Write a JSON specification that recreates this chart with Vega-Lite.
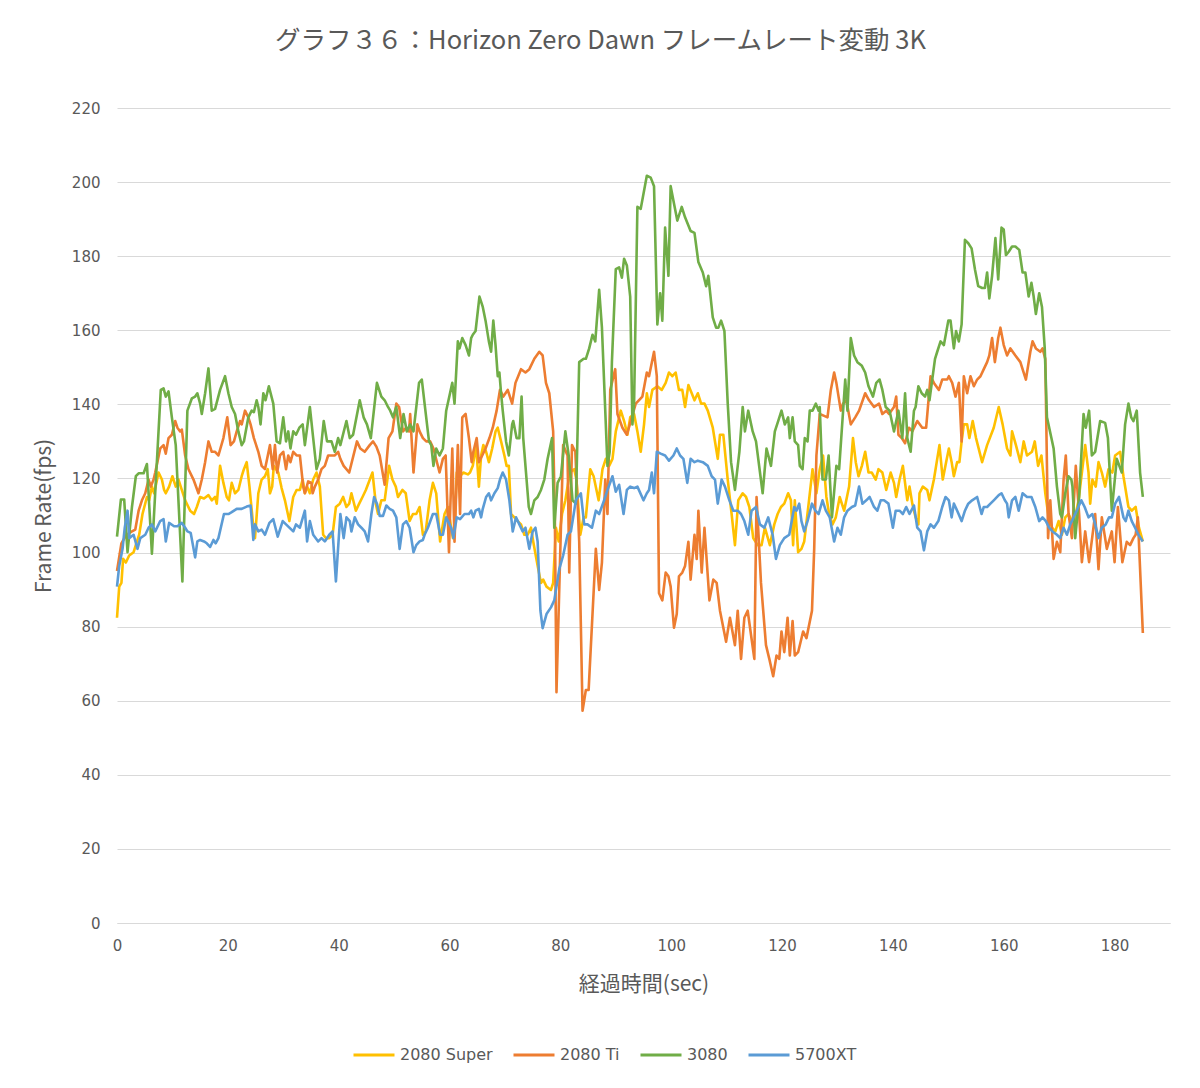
{
  "$schema": "https://vega.github.io/schema/vega-lite/v6.json",
  "width": 1053,
  "height": 815,
  "autosize": {"type": "none"},
  "padding": {"left": 117, "top": 108, "right": 30, "bottom": 165},
  "background": "white",
  "title": {
    "text": "グラフ３６：Horizon Zero Dawn フレームレート変動 3K",
    "fontSize": 25.5,
    "font": "Noto Sans CJK JP",
    "fontWeight": "normal",
    "color": "#595959",
    "anchor": "middle",
    "offset": 47,
    "dx": -43
  },
  "config": {
    "view": {"stroke": null},
    "axis": {
      "labelColor": "#595959",
      "titleColor": "#595959",
      "labelFont": "DejaVu Sans",
      "labelFontSize": 15,
      "titleFont": "Noto Sans CJK JP",
      "titleFontSize": 21,
      "titleFontWeight": "normal"
    }
  },
  "datasets": {
    "super": [
      {"t":0,"fps":82.4},{"t":0.4,"fps":90.8},{"t":0.8,"fps":91.8},{"t":1.1,"fps":98.3},{"t":1.6,"fps":97.3},{"t":2.2,"fps":99.2},{"t":3.0,"fps":100.1},{"t":3.6,"fps":103.0},{"t":4.0,"fps":104.8},{"t":4.6,"fps":110.4},{"t":5.4,"fps":115.0},{"t":5.8,"fps":114.1},{"t":6.3,"fps":117.8},{"t":6.7,"fps":116.0},{"t":7.5,"fps":121.6},{"t":8.1,"fps":119.7},{"t":8.5,"fps":116.9},{"t":8.8,"fps":116.0},{"t":9.4,"fps":117.8},{"t":10.0,"fps":120.6},{"t":10.6,"fps":117.8},{"t":11.1,"fps":119.7},{"t":11.5,"fps":117.8},{"t":12.3,"fps":114.1},{"t":13.2,"fps":111.3},{"t":13.9,"fps":110.4},{"t":14.4,"fps":112.3},{"t":15.0,"fps":115.0},{"t":15.7,"fps":114.6},{"t":16.5,"fps":115.5},{"t":17.1,"fps":114.1},{"t":17.7,"fps":115.0},{"t":18.0,"fps":113.2},{"t":18.6,"fps":123.4},{"t":19.2,"fps":118.8},{"t":19.8,"fps":115.0},{"t":20.2,"fps":114.1},{"t":20.7,"fps":118.8},{"t":21.3,"fps":116.0},{"t":21.9,"fps":116.9},{"t":22.5,"fps":120.6},{"t":22.9,"fps":122.5},{"t":23.4,"fps":124.4},{"t":23.9,"fps":117.8},{"t":24.5,"fps":108.5},{"t":24.9,"fps":103.9},{"t":25.5,"fps":116.0},{"t":26.1,"fps":119.7},{"t":26.7,"fps":120.6},{"t":27.2,"fps":122.5},{"t":27.6,"fps":116.0},{"t":28.0,"fps":117.8},{"t":28.3,"fps":123.4},{"t":29.1,"fps":121.6},{"t":29.7,"fps":117.4},{"t":30.3,"fps":114.1},{"t":31.1,"fps":108.5},{"t":31.8,"fps":115.0},{"t":32.4,"fps":116.9},{"t":33.0,"fps":116.9},{"t":33.5,"fps":119.7},{"t":33.9,"fps":116.0},{"t":34.3,"fps":117.8},{"t":34.8,"fps":116.0},{"t":35.4,"fps":119.7},{"t":36.0,"fps":121.6},{"t":36.6,"fps":117.8},{"t":37.2,"fps":104.8},{"t":37.7,"fps":103.9},{"t":38.3,"fps":103.9},{"t":38.9,"fps":104.8},{"t":39.5,"fps":112.3},{"t":40.2,"fps":113.2},{"t":40.8,"fps":115.0},{"t":41.4,"fps":112.3},{"t":41.9,"fps":113.2},{"t":42.3,"fps":116.0},{"t":43.1,"fps":111.3},{"t":43.7,"fps":113.2},{"t":44.3,"fps":115.0},{"t":44.9,"fps":116.9},{"t":46.1,"fps":121.6},{"t":46.7,"fps":113.2},{"t":47.1,"fps":110.4},{"t":47.7,"fps":114.1},{"t":48.3,"fps":114.1},{"t":49.1,"fps":123.4},{"t":49.7,"fps":119.7},{"t":50.3,"fps":117.8},{"t":50.7,"fps":115.0},{"t":51.5,"fps":116.9},{"t":52.1,"fps":116.0},{"t":52.8,"fps":108.5},{"t":53.4,"fps":110.4},{"t":54.0,"fps":110.4},{"t":54.6,"fps":112.3},{"t":55.2,"fps":104.8},{"t":55.7,"fps":105.7},{"t":56.4,"fps":114.1},{"t":57.0,"fps":118.8},{"t":57.6,"fps":116.0},{"t":58.3,"fps":103.0},{"t":59.1,"fps":110.4},{"t":59.7,"fps":112.3},{"t":60.6,"fps":103.9},{"t":60.9,"fps":105.7},{"t":61.3,"fps":121.6},{"t":61.9,"fps":120.6},{"t":62.5,"fps":121.6},{"t":63.3,"fps":121.1},{"t":63.7,"fps":121.6},{"t":64.2,"fps":123.4},{"t":64.8,"fps":129.0},{"t":65.3,"fps":117.8},{"t":65.7,"fps":126.2},{"t":66.1,"fps":129.0},{"t":66.6,"fps":127.2},{"t":67.1,"fps":124.4},{"t":67.7,"fps":128.1},{"t":68.3,"fps":132.7},{"t":68.7,"fps":133.7},{"t":69.3,"fps":130.0},{"t":69.9,"fps":126.2},{"t":70.3,"fps":123.4},{"t":70.7,"fps":123.4},{"t":71.1,"fps":110.4},{"t":71.7,"fps":109.5},{"t":72.3,"fps":108.5},{"t":72.9,"fps":107.6},{"t":73.5,"fps":104.8},{"t":74.1,"fps":104.8},{"t":74.7,"fps":106.7},{"t":75.1,"fps":103.0},{"t":75.9,"fps":96.4},{"t":76.5,"fps":91.8},{"t":76.9,"fps":92.7},{"t":77.5,"fps":90.8},{"t":78.3,"fps":89.9},{"t":78.7,"fps":91.8},{"t":79.2,"fps":106.7},{"t":79.7,"fps":103.0},{"t":80.3,"fps":110.4},{"t":80.9,"fps":114.1},{"t":81.7,"fps":121.6},{"t":82.5,"fps":122.5},{"t":82.9,"fps":119.7},{"t":83.6,"fps":104.8},{"t":84.2,"fps":109.5},{"t":84.6,"fps":109.5},{"t":85.4,"fps":122.5},{"t":86.0,"fps":120.6},{"t":86.9,"fps":114.1},{"t":87.6,"fps":122.5},{"t":88.2,"fps":125.3},{"t":88.8,"fps":123.4},{"t":89.4,"fps":125.3},{"t":90.0,"fps":132.7},{"t":90.9,"fps":138.3},{"t":91.5,"fps":135.5},{"t":92.1,"fps":131.8},{"t":92.6,"fps":136.5},{"t":93.3,"fps":137.4},{"t":93.9,"fps":132.7},{"t":94.5,"fps":127.2},{"t":95.1,"fps":134.6},{"t":95.6,"fps":143.0},{"t":96.0,"fps":139.3},{"t":96.6,"fps":143.9},{"t":97.5,"fps":144.9},{"t":98.3,"fps":143.9},{"t":99.0,"fps":145.8},{"t":99.6,"fps":148.6},{"t":100.2,"fps":147.6},{"t":100.8,"fps":148.6},{"t":101.4,"fps":143.9},{"t":102.0,"fps":143.9},{"t":102.5,"fps":139.3},{"t":103.1,"fps":145.2},{"t":103.7,"fps":143.0},{"t":104.2,"fps":141.1},{"t":104.8,"fps":143.0},{"t":105.4,"fps":140.2},{"t":106.0,"fps":140.2},{"t":106.6,"fps":138.3},{"t":107.5,"fps":133.7},{"t":108.4,"fps":125.3},{"t":108.8,"fps":131.8},{"t":109.4,"fps":131.8},{"t":110.2,"fps":119.7},{"t":110.9,"fps":110.4},{"t":111.5,"fps":102.0},{"t":112.1,"fps":114.1},{"t":112.9,"fps":116.0},{"t":113.5,"fps":115.0},{"t":114.1,"fps":112.3},{"t":114.8,"fps":103.9},{"t":115.6,"fps":102.0},{"t":116.3,"fps":102.0},{"t":116.9,"fps":106.7},{"t":117.8,"fps":102.0},{"t":118.6,"fps":107.6},{"t":119.2,"fps":110.4},{"t":119.8,"fps":112.3},{"t":120.4,"fps":113.2},{"t":121.1,"fps":116.0},{"t":121.6,"fps":114.1},{"t":122.0,"fps":102.0},{"t":122.3,"fps":114.1},{"t":122.9,"fps":100.1},{"t":123.5,"fps":101.0},{"t":124.0,"fps":103.0},{"t":124.8,"fps":113.2},{"t":125.5,"fps":122.5},{"t":126.2,"fps":116.0},{"t":126.8,"fps":122.5},{"t":127.4,"fps":126.2},{"t":128.0,"fps":115.0},{"t":128.5,"fps":110.4},{"t":129.1,"fps":107.6},{"t":129.7,"fps":109.5},{"t":130.4,"fps":115.0},{"t":131.2,"fps":111.3},{"t":132.1,"fps":117.8},{"t":132.8,"fps":130.9},{"t":133.3,"fps":124.4},{"t":133.8,"fps":120.6},{"t":134.4,"fps":123.4},{"t":135.0,"fps":127.2},{"t":135.6,"fps":121.6},{"t":136.2,"fps":121.6},{"t":136.9,"fps":119.7},{"t":137.4,"fps":122.5},{"t":138.1,"fps":121.6},{"t":138.8,"fps":116.9},{"t":139.6,"fps":121.6},{"t":140.2,"fps":118.8},{"t":140.6,"fps":115.0},{"t":141.2,"fps":119.7},{"t":141.8,"fps":123.4},{"t":142.6,"fps":114.1},{"t":143.0,"fps":117.8},{"t":143.5,"fps":113.2},{"t":144.1,"fps":109.5},{"t":144.6,"fps":107.6},{"t":144.8,"fps":116.0},{"t":145.4,"fps":117.8},{"t":146.2,"fps":116.9},{"t":146.6,"fps":114.1},{"t":147.4,"fps":119.7},{"t":148.4,"fps":129.0},{"t":149.0,"fps":119.7},{"t":149.6,"fps":124.4},{"t":150.1,"fps":128.1},{"t":150.6,"fps":124.4},{"t":151.0,"fps":120.6},{"t":151.6,"fps":124.4},{"t":152.0,"fps":124.4},{"t":152.4,"fps":130.0},{"t":152.8,"fps":134.6},{"t":153.4,"fps":134.6},{"t":153.8,"fps":130.9},{"t":154.4,"fps":135.5},{"t":155.0,"fps":130.9},{"t":156.1,"fps":124.4},{"t":157.0,"fps":129.0},{"t":158.2,"fps":133.7},{"t":159.1,"fps":139.3},{"t":159.8,"fps":134.6},{"t":160.6,"fps":128.1},{"t":161.2,"fps":126.2},{"t":161.5,"fps":132.7},{"t":162.2,"fps":129.0},{"t":163.0,"fps":124.4},{"t":163.6,"fps":130.0},{"t":164.2,"fps":126.2},{"t":165.1,"fps":127.2},{"t":165.6,"fps":130.0},{"t":166.2,"fps":123.4},{"t":166.8,"fps":126.2},{"t":167.5,"fps":116.0},{"t":168.1,"fps":109.5},{"t":168.7,"fps":106.7},{"t":169.3,"fps":105.7},{"t":169.9,"fps":108.5},{"t":170.5,"fps":104.8},{"t":171.1,"fps":109.5},{"t":171.7,"fps":110.4},{"t":172.6,"fps":107.6},{"t":173.5,"fps":114.1},{"t":174.7,"fps":129.0},{"t":175.3,"fps":121.6},{"t":175.6,"fps":113.2},{"t":176.0,"fps":119.7},{"t":176.6,"fps":117.8},{"t":177.1,"fps":124.4},{"t":177.7,"fps":121.6},{"t":178.3,"fps":117.8},{"t":178.9,"fps":122.5},{"t":179.6,"fps":121.6},{"t":180.1,"fps":126.2},{"t":181.0,"fps":127.2},{"t":181.6,"fps":120.6},{"t":182.5,"fps":112.3},{"t":183.1,"fps":111.3},{"t":183.8,"fps":112.3},{"t":184.4,"fps":106.7},{"t":185.1,"fps":103.0}
    ],
    "ti": [
      {"t":0,"fps":95.0},{"t":0.8,"fps":102.5},{"t":1.7,"fps":104.8},{"t":2.7,"fps":105.7},{"t":3.3,"fps":106.2},{"t":3.9,"fps":111.3},{"t":4.5,"fps":114.1},{"t":5.1,"fps":116.0},{"t":5.7,"fps":119.7},{"t":6.1,"fps":117.8},{"t":6.6,"fps":119.7},{"t":6.9,"fps":121.6},{"t":7.8,"fps":128.1},{"t":8.4,"fps":129.0},{"t":8.8,"fps":126.7},{"t":9.3,"fps":130.9},{"t":9.9,"fps":131.8},{"t":10.5,"fps":135.5},{"t":10.9,"fps":133.7},{"t":11.4,"fps":132.7},{"t":11.7,"fps":133.2},{"t":12.3,"fps":126.2},{"t":12.9,"fps":122.5},{"t":13.8,"fps":119.7},{"t":14.7,"fps":116.0},{"t":15.3,"fps":119.7},{"t":15.9,"fps":124.4},{"t":16.5,"fps":130.0},{"t":17.1,"fps":127.2},{"t":17.7,"fps":127.2},{"t":18.3,"fps":126.2},{"t":19.2,"fps":130.9},{"t":19.9,"fps":136.5},{"t":20.5,"fps":129.0},{"t":21.1,"fps":130.0},{"t":21.6,"fps":132.7},{"t":22.2,"fps":135.5},{"t":22.5,"fps":134.6},{"t":23.1,"fps":138.3},{"t":23.7,"fps":136.5},{"t":24.1,"fps":134.6},{"t":24.7,"fps":130.9},{"t":25.5,"fps":127.2},{"t":26.1,"fps":123.4},{"t":26.7,"fps":122.5},{"t":27.6,"fps":129.0},{"t":28.1,"fps":122.5},{"t":28.5,"fps":129.0},{"t":28.9,"fps":121.6},{"t":29.4,"fps":126.2},{"t":30.0,"fps":127.2},{"t":30.5,"fps":122.5},{"t":30.9,"fps":126.2},{"t":31.3,"fps":124.4},{"t":31.8,"fps":127.2},{"t":32.4,"fps":126.2},{"t":33.0,"fps":126.2},{"t":33.6,"fps":117.8},{"t":33.9,"fps":116.0},{"t":34.5,"fps":119.2},{"t":35.1,"fps":118.8},{"t":35.3,"fps":116.0},{"t":35.7,"fps":117.8},{"t":36.3,"fps":119.7},{"t":36.9,"fps":122.5},{"t":37.5,"fps":123.4},{"t":38.1,"fps":126.2},{"t":38.7,"fps":126.2},{"t":39.3,"fps":126.2},{"t":39.9,"fps":127.2},{"t":40.3,"fps":125.3},{"t":40.9,"fps":123.4},{"t":41.9,"fps":121.6},{"t":43.3,"fps":130.0},{"t":43.9,"fps":128.1},{"t":44.7,"fps":127.2},{"t":45.6,"fps":129.0},{"t":46.2,"fps":130.0},{"t":46.8,"fps":128.6},{"t":47.4,"fps":126.2},{"t":48.3,"fps":118.3},{"t":49.0,"fps":130.9},{"t":49.7,"fps":132.7},{"t":50.4,"fps":140.2},{"t":50.9,"fps":139.3},{"t":51.6,"fps":132.7},{"t":52.2,"fps":133.7},{"t":52.7,"fps":132.7},{"t":52.9,"fps":137.4},{"t":53.5,"fps":121.6},{"t":54.2,"fps":134.6},{"t":54.6,"fps":132.7},{"t":55.2,"fps":130.9},{"t":55.8,"fps":130.0},{"t":56.5,"fps":130.0},{"t":57.1,"fps":128.1},{"t":58.2,"fps":121.6},{"t":58.8,"fps":125.3},{"t":59.3,"fps":126.2},{"t":59.9,"fps":100.1},{"t":60.1,"fps":110.4},{"t":60.5,"fps":128.1},{"t":60.9,"fps":102.9},{"t":61.5,"fps":129.0},{"t":61.9,"fps":110.4},{"t":62.3,"fps":136.5},{"t":62.9,"fps":137.4},{"t":63.5,"fps":130.9},{"t":64.0,"fps":124.4},{"t":64.3,"fps":127.2},{"t":64.9,"fps":130.9},{"t":65.3,"fps":124.4},{"t":65.9,"fps":126.2},{"t":66.5,"fps":128.1},{"t":67.2,"fps":130.9},{"t":67.8,"fps":133.7},{"t":68.5,"fps":138.3},{"t":69.1,"fps":143.9},{"t":69.7,"fps":142.1},{"t":70.5,"fps":143.9},{"t":71.3,"fps":140.2},{"t":71.9,"fps":145.8},{"t":72.9,"fps":149.5},{"t":73.7,"fps":148.6},{"t":74.4,"fps":149.5},{"t":75.3,"fps":152.3},{"t":76.2,"fps":154.2},{"t":76.8,"fps":153.2},{"t":77.4,"fps":145.8},{"t":78.0,"fps":143.0},{"t":78.7,"fps":132.7},{"t":79.0,"fps":110.4},{"t":79.3,"fps":62.3},{"t":80.5,"fps":129.0},{"t":81.3,"fps":126.2},{"t":81.6,"fps":94.6},{"t":82.1,"fps":129.0},{"t":82.7,"fps":127.2},{"t":83.4,"fps":102.9},{"t":84.0,"fps":57.3},{"t":84.6,"fps":62.9},{"t":85.1,"fps":62.9},{"t":86.4,"fps":101.0},{"t":87.0,"fps":89.9},{"t":87.5,"fps":97.3},{"t":88.1,"fps":119.7},{"t":88.5,"fps":110.4},{"t":89.0,"fps":143.9},{"t":89.9,"fps":149.5},{"t":90.3,"fps":137.4},{"t":91.2,"fps":133.7},{"t":92.0,"fps":131.8},{"t":92.7,"fps":135.5},{"t":93.6,"fps":140.2},{"t":94.8,"fps":142.1},{"t":95.6,"fps":148.6},{"t":96.0,"fps":147.6},{"t":96.9,"fps":154.2},{"t":97.4,"fps":147.6},{"t":97.8,"fps":89.0},{"t":98.4,"fps":87.1},{"t":99.0,"fps":94.6},{"t":99.5,"fps":93.6},{"t":99.9,"fps":90.8},{"t":100.5,"fps":79.7},{"t":101.0,"fps":83.4},{"t":101.4,"fps":93.6},{"t":102.0,"fps":94.6},{"t":102.5,"fps":96.4},{"t":103.1,"fps":102.9},{"t":103.5,"fps":92.7},{"t":104.2,"fps":104.8},{"t":104.6,"fps":98.3},{"t":104.9,"fps":111.3},{"t":105.5,"fps":94.6},{"t":106.0,"fps":106.7},{"t":106.9,"fps":87.1},{"t":107.6,"fps":92.7},{"t":108.2,"fps":91.8},{"t":108.8,"fps":84.3},{"t":109.9,"fps":75.9},{"t":110.6,"fps":82.4},{"t":111.5,"fps":75.0},{"t":112.0,"fps":84.3},{"t":112.6,"fps":71.3},{"t":113.2,"fps":82.4},{"t":113.8,"fps":84.3},{"t":115.0,"fps":71.3},{"t":115.4,"fps":115.0},{"t":116.2,"fps":91.8},{"t":117.1,"fps":75.0},{"t":117.7,"fps":71.3},{"t":118.4,"fps":66.6},{"t":119.0,"fps":72.2},{"t":119.5,"fps":71.3},{"t":119.9,"fps":78.7},{"t":120.4,"fps":73.1},{"t":121.0,"fps":82.4},{"t":121.4,"fps":72.2},{"t":121.9,"fps":81.5},{"t":122.3,"fps":72.2},{"t":122.9,"fps":73.1},{"t":123.8,"fps":78.7},{"t":124.4,"fps":76.9},{"t":125.4,"fps":84.3},{"t":125.8,"fps":101.0},{"t":126.2,"fps":126.2},{"t":126.8,"fps":137.4},{"t":127.6,"fps":136.9},{"t":128.2,"fps":136.5},{"t":128.8,"fps":143.9},{"t":129.4,"fps":148.6},{"t":129.8,"fps":145.8},{"t":130.6,"fps":138.3},{"t":131.0,"fps":140.2},{"t":131.6,"fps":141.1},{"t":132.4,"fps":134.6},{"t":133.2,"fps":136.5},{"t":133.9,"fps":138.3},{"t":135.0,"fps":143.0},{"t":135.7,"fps":141.1},{"t":136.6,"fps":139.3},{"t":137.5,"fps":140.2},{"t":138.1,"fps":137.4},{"t":138.8,"fps":138.3},{"t":139.3,"fps":137.4},{"t":140.2,"fps":139.3},{"t":140.6,"fps":142.1},{"t":141.0,"fps":131.8},{"t":141.6,"fps":130.9},{"t":142.2,"fps":129.5},{"t":142.9,"fps":133.7},{"t":143.5,"fps":132.7},{"t":144.4,"fps":135.5},{"t":145.3,"fps":133.7},{"t":146.0,"fps":133.7},{"t":146.8,"fps":147.6},{"t":147.4,"fps":145.8},{"t":148.3,"fps":143.9},{"t":148.9,"fps":146.7},{"t":149.8,"fps":146.7},{"t":150.1,"fps":147.6},{"t":150.7,"fps":145.8},{"t":151.3,"fps":142.1},{"t":151.9,"fps":145.8},{"t":152.4,"fps":130.0},{"t":152.8,"fps":147.6},{"t":153.4,"fps":143.0},{"t":154.0,"fps":147.6},{"t":154.6,"fps":144.9},{"t":155.2,"fps":146.7},{"t":155.8,"fps":147.6},{"t":156.4,"fps":149.5},{"t":157.0,"fps":151.4},{"t":157.4,"fps":153.2},{"t":157.9,"fps":157.9},{"t":158.4,"fps":151.4},{"t":159.0,"fps":157.9},{"t":159.4,"fps":160.7},{"t":160.0,"fps":156.0},{"t":160.6,"fps":153.2},{"t":161.2,"fps":155.1},{"t":162.1,"fps":153.2},{"t":163.0,"fps":151.4},{"t":164.0,"fps":146.7},{"t":164.8,"fps":154.2},{"t":165.2,"fps":157.0},{"t":165.8,"fps":155.1},{"t":166.6,"fps":154.2},{"t":167.0,"fps":155.1},{"t":167.5,"fps":152.3},{"t":168.0,"fps":103.9},{"t":168.4,"fps":114.1},{"t":169.0,"fps":98.3},{"t":169.6,"fps":102.9},{"t":170.2,"fps":100.1},{"t":170.8,"fps":119.7},{"t":171.2,"fps":126.2},{"t":171.7,"fps":110.4},{"t":172.3,"fps":103.9},{"t":173.0,"fps":123.4},{"t":173.6,"fps":110.4},{"t":174.1,"fps":97.4},{"t":174.7,"fps":105.7},{"t":175.4,"fps":97.4},{"t":176.5,"fps":110.4},{"t":177.1,"fps":95.5},{"t":177.7,"fps":109.5},{"t":178.6,"fps":101.0},{"t":179.5,"fps":105.7},{"t":180.0,"fps":97.4},{"t":180.6,"fps":112.3},{"t":181.4,"fps":97.4},{"t":182.2,"fps":102.9},{"t":182.8,"fps":102.0},{"t":183.4,"fps":103.9},{"t":183.8,"fps":104.8},{"t":184.2,"fps":109.5},{"t":185.1,"fps":78.3}
    ],
    "g3080": [
      {"t":0,"fps":104.3},{"t":0.7,"fps":114.3},{"t":1.3,"fps":114.3},{"t":1.9,"fps":100.1},{"t":2.7,"fps":112.3},{"t":3.4,"fps":120.6},{"t":3.9,"fps":121.4},{"t":4.8,"fps":121.4},{"t":5.4,"fps":123.9},{"t":6.3,"fps":99.7},{"t":7.9,"fps":143.9},{"t":8.4,"fps":144.3},{"t":8.8,"fps":142.1},{"t":9.3,"fps":143.5},{"t":9.9,"fps":136.5},{"t":10.6,"fps":129.0},{"t":11.8,"fps":92.2},{"t":12.7,"fps":138.3},{"t":13.5,"fps":141.6},{"t":14.1,"fps":142.1},{"t":14.5,"fps":143.0},{"t":15.0,"fps":140.2},{"t":15.3,"fps":137.4},{"t":15.9,"fps":143.0},{"t":16.5,"fps":149.7},{"t":17.1,"fps":138.3},{"t":17.7,"fps":138.8},{"t":18.6,"fps":143.9},{"t":19.5,"fps":147.6},{"t":20.1,"fps":143.0},{"t":20.7,"fps":139.3},{"t":21.3,"fps":137.4},{"t":21.9,"fps":132.7},{"t":22.5,"fps":129.0},{"t":22.9,"fps":130.0},{"t":23.7,"fps":136.5},{"t":24.3,"fps":138.3},{"t":24.7,"fps":137.9},{"t":25.2,"fps":141.1},{"t":25.5,"fps":139.3},{"t":25.9,"fps":134.6},{"t":26.4,"fps":143.0},{"t":26.8,"fps":141.1},{"t":27.4,"fps":144.9},{"t":28.2,"fps":140.2},{"t":28.8,"fps":130.0},{"t":29.4,"fps":129.5},{"t":30.0,"fps":136.5},{"t":30.5,"fps":130.0},{"t":30.9,"fps":132.7},{"t":31.3,"fps":128.1},{"t":31.8,"fps":132.7},{"t":32.3,"fps":131.8},{"t":32.9,"fps":133.7},{"t":33.5,"fps":134.6},{"t":33.9,"fps":129.0},{"t":34.8,"fps":139.3},{"t":35.4,"fps":130.9},{"t":36.0,"fps":122.5},{"t":36.6,"fps":125.3},{"t":37.3,"fps":135.5},{"t":37.9,"fps":130.0},{"t":38.7,"fps":130.0},{"t":39.3,"fps":127.2},{"t":39.9,"fps":130.9},{"t":40.3,"fps":129.0},{"t":41.4,"fps":135.5},{"t":42.0,"fps":130.9},{"t":42.6,"fps":131.8},{"t":43.8,"fps":141.1},{"t":44.5,"fps":136.5},{"t":45.1,"fps":134.6},{"t":45.8,"fps":130.9},{"t":46.9,"fps":145.8},{"t":47.7,"fps":142.1},{"t":48.3,"fps":141.1},{"t":48.9,"fps":139.3},{"t":49.3,"fps":138.3},{"t":49.8,"fps":136.5},{"t":50.4,"fps":139.3},{"t":51.1,"fps":130.9},{"t":51.7,"fps":137.4},{"t":52.3,"fps":132.7},{"t":52.9,"fps":134.6},{"t":53.5,"fps":132.7},{"t":54.5,"fps":145.8},{"t":55.0,"fps":146.7},{"t":55.5,"fps":140.2},{"t":56.3,"fps":130.0},{"t":56.7,"fps":129.0},{"t":57.1,"fps":123.4},{"t":57.6,"fps":128.1},{"t":58.2,"fps":126.2},{"t":58.8,"fps":128.1},{"t":59.4,"fps":138.3},{"t":60.5,"fps":145.8},{"t":60.9,"fps":140.2},{"t":61.5,"fps":157.0},{"t":61.8,"fps":155.1},{"t":62.3,"fps":157.9},{"t":62.9,"fps":156.0},{"t":63.5,"fps":153.2},{"t":63.9,"fps":157.9},{"t":64.2,"fps":158.8},{"t":64.7,"fps":159.8},{"t":65.4,"fps":169.1},{"t":66.0,"fps":166.3},{"t":66.5,"fps":162.6},{"t":67.1,"fps":157.0},{"t":67.5,"fps":154.2},{"t":67.9,"fps":162.6},{"t":68.3,"fps":156.0},{"t":68.7,"fps":147.6},{"t":69.0,"fps":148.6},{"t":69.3,"fps":143.0},{"t":69.6,"fps":138.3},{"t":70.2,"fps":130.0},{"t":70.7,"fps":126.2},{"t":71.3,"fps":134.6},{"t":71.5,"fps":135.5},{"t":72.1,"fps":130.9},{"t":72.6,"fps":130.9},{"t":73.0,"fps":142.1},{"t":73.3,"fps":130.9},{"t":73.8,"fps":121.6},{"t":74.3,"fps":112.3},{"t":74.7,"fps":110.4},{"t":75.3,"fps":114.1},{"t":75.9,"fps":115.0},{"t":76.5,"fps":116.9},{"t":77.1,"fps":119.7},{"t":77.7,"fps":125.3},{"t":78.5,"fps":130.9},{"t":78.9,"fps":106.7},{"t":79.5,"fps":118.8},{"t":80.1,"fps":120.6},{"t":80.9,"fps":132.7},{"t":81.5,"fps":126.2},{"t":82.2,"fps":114.1},{"t":82.8,"fps":113.2},{"t":83.4,"fps":151.4},{"t":84.2,"fps":152.3},{"t":84.6,"fps":152.3},{"t":85.2,"fps":155.1},{"t":85.8,"fps":158.8},{"t":86.3,"fps":157.0},{"t":87.0,"fps":170.9},{"t":87.5,"fps":160.7},{"t":88.5,"fps":123.4},{"t":88.9,"fps":127.2},{"t":89.3,"fps":151.4},{"t":90.0,"fps":176.5},{"t":90.6,"fps":177.0},{"t":91.1,"fps":174.2},{"t":91.5,"fps":179.3},{"t":92.0,"fps":177.5},{"t":92.6,"fps":169.1},{"t":93.0,"fps":134.6},{"t":93.3,"fps":140.2},{"t":93.9,"fps":193.3},{"t":94.5,"fps":192.8},{"t":95.6,"fps":201.7},{"t":96.3,"fps":201.2},{"t":96.9,"fps":198.9},{"t":97.5,"fps":161.6},{"t":98.0,"fps":170.0},{"t":98.4,"fps":162.6},{"t":98.9,"fps":187.7},{"t":99.5,"fps":174.7},{"t":99.9,"fps":198.9},{"t":100.5,"fps":194.2},{"t":101.1,"fps":189.6},{"t":101.9,"fps":193.3},{"t":102.5,"fps":190.5},{"t":103.5,"fps":186.8},{"t":104.2,"fps":186.3},{"t":104.9,"fps":178.4},{"t":105.7,"fps":175.6},{"t":106.3,"fps":171.9},{"t":106.7,"fps":174.7},{"t":107.5,"fps":163.5},{"t":108.1,"fps":160.7},{"t":108.5,"fps":160.7},{"t":109.0,"fps":162.6},{"t":109.6,"fps":159.8},{"t":110.2,"fps":140.2},{"t":110.8,"fps":124.4},{"t":111.5,"fps":116.9},{"t":112.3,"fps":127.2},{"t":112.9,"fps":139.3},{"t":113.3,"fps":132.7},{"t":113.9,"fps":138.3},{"t":114.7,"fps":132.7},{"t":115.3,"fps":130.0},{"t":116.5,"fps":116.0},{"t":117.2,"fps":128.1},{"t":118.0,"fps":123.4},{"t":118.7,"fps":132.7},{"t":119.3,"fps":135.5},{"t":119.9,"fps":138.3},{"t":120.5,"fps":134.6},{"t":121.1,"fps":136.5},{"t":121.4,"fps":130.9},{"t":121.9,"fps":136.5},{"t":122.3,"fps":130.0},{"t":122.9,"fps":129.0},{"t":123.2,"fps":123.4},{"t":123.7,"fps":122.5},{"t":124.1,"fps":130.9},{"t":124.6,"fps":130.0},{"t":125.0,"fps":138.3},{"t":125.5,"fps":138.3},{"t":126.1,"fps":140.2},{"t":126.6,"fps":138.3},{"t":126.8,"fps":139.3},{"t":127.3,"fps":119.7},{"t":127.9,"fps":119.7},{"t":128.4,"fps":126.2},{"t":129.0,"fps":109.5},{"t":129.8,"fps":123.4},{"t":130.3,"fps":122.5},{"t":131.4,"fps":146.7},{"t":131.8,"fps":138.3},{"t":132.4,"fps":157.9},{"t":133.0,"fps":153.2},{"t":133.6,"fps":151.4},{"t":134.4,"fps":150.4},{"t":135.0,"fps":148.6},{"t":135.6,"fps":144.9},{"t":136.4,"fps":142.1},{"t":137.0,"fps":145.8},{"t":137.6,"fps":146.7},{"t":138.1,"fps":143.9},{"t":138.7,"fps":139.3},{"t":139.4,"fps":138.3},{"t":140.2,"fps":132.7},{"t":141.0,"fps":138.3},{"t":141.7,"fps":130.9},{"t":142.2,"fps":143.0},{"t":142.6,"fps":130.9},{"t":143.2,"fps":127.2},{"t":143.8,"fps":138.3},{"t":144.1,"fps":139.3},{"t":144.6,"fps":144.9},{"t":145.2,"fps":143.0},{"t":145.8,"fps":142.1},{"t":146.2,"fps":143.9},{"t":146.6,"fps":141.1},{"t":147.6,"fps":152.3},{"t":148.0,"fps":154.2},{"t":148.6,"fps":157.0},{"t":149.2,"fps":156.0},{"t":150.0,"fps":162.6},{"t":150.4,"fps":162.6},{"t":151.0,"fps":155.1},{"t":151.4,"fps":159.8},{"t":151.9,"fps":157.0},{"t":152.4,"fps":161.6},{"t":153.0,"fps":184.4},{"t":153.6,"fps":183.5},{"t":154.2,"fps":182.1},{"t":154.8,"fps":176.5},{"t":155.4,"fps":171.9},{"t":156.1,"fps":171.4},{"t":156.6,"fps":171.4},{"t":157.0,"fps":175.6},{"t":157.4,"fps":168.6},{"t":157.9,"fps":174.7},{"t":158.5,"fps":184.9},{"t":159.0,"fps":173.7},{"t":159.6,"fps":187.7},{"t":160.0,"fps":187.2},{"t":160.4,"fps":180.3},{"t":160.9,"fps":181.2},{"t":161.5,"fps":182.6},{"t":162.1,"fps":182.6},{"t":162.8,"fps":181.7},{"t":163.4,"fps":175.6},{"t":163.9,"fps":175.6},{"t":164.5,"fps":169.1},{"t":165.0,"fps":172.8},{"t":165.4,"fps":169.1},{"t":165.8,"fps":164.4},{"t":166.4,"fps":170.0},{"t":166.9,"fps":166.3},{"t":167.4,"fps":155.1},{"t":167.8,"fps":136.5},{"t":168.6,"fps":130.9},{"t":169.0,"fps":128.1},{"t":169.6,"fps":117.8},{"t":170.2,"fps":110.4},{"t":170.5,"fps":109.5},{"t":171.1,"fps":116.0},{"t":171.7,"fps":120.6},{"t":172.2,"fps":119.7},{"t":172.4,"fps":117.8},{"t":172.9,"fps":103.9},{"t":173.6,"fps":115.0},{"t":174.4,"fps":137.4},{"t":174.8,"fps":133.7},{"t":175.4,"fps":138.3},{"t":175.9,"fps":126.2},{"t":176.5,"fps":127.2},{"t":177.4,"fps":135.5},{"t":178.3,"fps":135.0},{"t":178.8,"fps":130.9},{"t":179.5,"fps":111.3},{"t":180.4,"fps":125.3},{"t":181.3,"fps":121.6},{"t":181.9,"fps":134.6},{"t":182.5,"fps":140.2},{"t":183.0,"fps":136.5},{"t":183.4,"fps":135.5},{"t":184.0,"fps":138.3},{"t":184.6,"fps":121.6},{"t":185.1,"fps":115.0}
    ],
    "xt": [
      {"t":0,"fps":90.8},{"t":0.4,"fps":96.4},{"t":1.0,"fps":101.0},{"t":1.4,"fps":106.7},{"t":1.9,"fps":111.3},{"t":2.2,"fps":103.9},{"t":3.0,"fps":104.8},{"t":3.7,"fps":101.0},{"t":4.2,"fps":103.9},{"t":5.1,"fps":104.8},{"t":5.7,"fps":106.7},{"t":6.3,"fps":107.6},{"t":6.9,"fps":105.7},{"t":7.8,"fps":108.5},{"t":8.4,"fps":109.0},{"t":8.8,"fps":103.0},{"t":9.4,"fps":108.0},{"t":10.3,"fps":107.1},{"t":10.9,"fps":107.1},{"t":11.7,"fps":108.0},{"t":12.3,"fps":106.7},{"t":12.7,"fps":105.7},{"t":13.3,"fps":105.3},{"t":14.1,"fps":98.7},{"t":14.5,"fps":103.0},{"t":15.0,"fps":103.4},{"t":15.7,"fps":103.0},{"t":16.2,"fps":102.5},{"t":16.8,"fps":101.5},{"t":17.4,"fps":103.4},{"t":17.8,"fps":102.5},{"t":18.3,"fps":103.9},{"t":19.3,"fps":110.4},{"t":20.1,"fps":110.4},{"t":20.7,"fps":110.9},{"t":21.6,"fps":111.8},{"t":22.5,"fps":111.8},{"t":23.4,"fps":112.4},{"t":24.1,"fps":112.7},{"t":24.6,"fps":103.4},{"t":24.9,"fps":107.6},{"t":25.5,"fps":105.7},{"t":26.1,"fps":106.2},{"t":26.7,"fps":104.8},{"t":27.5,"fps":108.0},{"t":28.2,"fps":109.0},{"t":29.0,"fps":104.3},{"t":29.9,"fps":108.5},{"t":30.5,"fps":107.6},{"t":31.8,"fps":105.7},{"t":32.3,"fps":107.6},{"t":33.0,"fps":106.7},{"t":33.9,"fps":111.3},{"t":34.3,"fps":103.0},{"t":34.8,"fps":108.5},{"t":35.4,"fps":104.8},{"t":36.3,"fps":103.0},{"t":36.9,"fps":103.9},{"t":37.5,"fps":103.0},{"t":38.3,"fps":104.8},{"t":38.9,"fps":105.7},{"t":39.5,"fps":92.2},{"t":40.3,"fps":110.4},{"t":40.9,"fps":103.9},{"t":41.4,"fps":109.5},{"t":42.0,"fps":108.5},{"t":42.3,"fps":105.7},{"t":42.9,"fps":109.5},{"t":43.5,"fps":107.6},{"t":44.1,"fps":106.7},{"t":44.7,"fps":105.7},{"t":45.3,"fps":103.0},{"t":45.9,"fps":110.4},{"t":46.4,"fps":115.0},{"t":46.9,"fps":113.2},{"t":47.4,"fps":109.9},{"t":48.0,"fps":109.9},{"t":48.6,"fps":112.7},{"t":49.2,"fps":111.8},{"t":49.8,"fps":111.3},{"t":50.4,"fps":109.5},{"t":51.0,"fps":101.0},{"t":51.6,"fps":107.6},{"t":52.2,"fps":108.5},{"t":52.8,"fps":106.7},{"t":53.5,"fps":100.1},{"t":54.0,"fps":102.0},{"t":54.6,"fps":103.0},{"t":55.2,"fps":103.4},{"t":55.5,"fps":104.8},{"t":56.1,"fps":106.7},{"t":57.0,"fps":110.4},{"t":57.6,"fps":110.4},{"t":58.3,"fps":104.8},{"t":58.8,"fps":104.8},{"t":59.4,"fps":109.5},{"t":60.3,"fps":106.7},{"t":60.7,"fps":103.9},{"t":61.3,"fps":109.5},{"t":61.9,"fps":109.0},{"t":62.7,"fps":110.4},{"t":63.5,"fps":110.4},{"t":63.9,"fps":111.3},{"t":64.3,"fps":109.5},{"t":64.7,"fps":111.3},{"t":65.3,"fps":111.8},{"t":65.7,"fps":109.5},{"t":66.0,"fps":111.8},{"t":66.6,"fps":115.0},{"t":67.1,"fps":116.0},{"t":67.5,"fps":114.1},{"t":68.1,"fps":116.0},{"t":68.7,"fps":117.4},{"t":69.1,"fps":119.7},{"t":69.6,"fps":121.6},{"t":70.2,"fps":119.7},{"t":70.8,"fps":114.1},{"t":71.4,"fps":105.7},{"t":72.0,"fps":109.5},{"t":72.6,"fps":107.6},{"t":73.2,"fps":105.7},{"t":73.7,"fps":106.7},{"t":74.4,"fps":101.0},{"t":75.0,"fps":105.7},{"t":75.5,"fps":106.7},{"t":75.9,"fps":103.0},{"t":76.4,"fps":84.3},{"t":76.8,"fps":79.6},{"t":77.5,"fps":83.4},{"t":78.3,"fps":85.2},{"t":78.9,"fps":87.1},{"t":79.8,"fps":95.5},{"t":80.5,"fps":99.2},{"t":81.3,"fps":104.8},{"t":81.9,"fps":105.7},{"t":82.8,"fps":114.1},{"t":83.7,"fps":116.0},{"t":84.3,"fps":107.6},{"t":84.9,"fps":107.6},{"t":85.7,"fps":106.7},{"t":86.4,"fps":111.3},{"t":87.0,"fps":110.4},{"t":87.9,"fps":114.1},{"t":88.5,"fps":116.9},{"t":89.4,"fps":120.6},{"t":90.0,"fps":116.4},{"t":90.6,"fps":118.3},{"t":91.4,"fps":110.4},{"t":92.0,"fps":116.9},{"t":92.6,"fps":117.8},{"t":93.3,"fps":117.4},{"t":93.9,"fps":117.8},{"t":95.0,"fps":114.1},{"t":95.6,"fps":116.0},{"t":96.0,"fps":116.9},{"t":96.5,"fps":121.6},{"t":96.9,"fps":116.0},{"t":97.4,"fps":127.2},{"t":98.1,"fps":126.7},{"t":98.9,"fps":126.2},{"t":99.6,"fps":124.8},{"t":100.4,"fps":126.2},{"t":101.0,"fps":128.1},{"t":101.6,"fps":126.2},{"t":102.2,"fps":125.3},{"t":102.9,"fps":118.8},{"t":103.5,"fps":125.3},{"t":104.2,"fps":124.4},{"t":104.8,"fps":124.8},{"t":105.7,"fps":124.4},{"t":106.6,"fps":123.4},{"t":107.3,"fps":120.6},{"t":107.9,"fps":119.7},{"t":108.4,"fps":113.2},{"t":109.1,"fps":119.7},{"t":109.7,"fps":117.8},{"t":110.5,"fps":114.1},{"t":111.2,"fps":111.3},{"t":112.0,"fps":111.3},{"t":112.6,"fps":110.4},{"t":113.2,"fps":108.5},{"t":113.9,"fps":104.8},{"t":114.5,"fps":111.3},{"t":115.3,"fps":112.3},{"t":116.0,"fps":107.6},{"t":116.8,"fps":106.7},{"t":117.5,"fps":109.5},{"t":118.3,"fps":104.8},{"t":118.9,"fps":98.3},{"t":119.6,"fps":102.0},{"t":120.4,"fps":103.9},{"t":121.3,"fps":104.8},{"t":122.2,"fps":112.3},{"t":122.6,"fps":111.3},{"t":123.1,"fps":113.2},{"t":123.5,"fps":108.5},{"t":124.0,"fps":105.7},{"t":124.6,"fps":108.5},{"t":125.4,"fps":113.2},{"t":126.0,"fps":111.3},{"t":126.6,"fps":110.4},{"t":127.3,"fps":114.1},{"t":127.9,"fps":111.3},{"t":128.6,"fps":109.5},{"t":129.4,"fps":103.0},{"t":130.0,"fps":106.7},{"t":130.6,"fps":104.8},{"t":131.2,"fps":109.5},{"t":131.8,"fps":111.3},{"t":132.6,"fps":112.3},{"t":133.2,"fps":112.7},{"t":133.9,"fps":117.8},{"t":134.5,"fps":113.2},{"t":135.2,"fps":114.1},{"t":135.8,"fps":115.0},{"t":136.6,"fps":112.3},{"t":137.2,"fps":111.3},{"t":137.8,"fps":114.1},{"t":138.4,"fps":114.1},{"t":139.2,"fps":113.2},{"t":140.0,"fps":106.7},{"t":140.5,"fps":111.3},{"t":141.2,"fps":111.3},{"t":141.8,"fps":110.4},{"t":142.4,"fps":112.3},{"t":143.0,"fps":110.4},{"t":143.8,"fps":112.7},{"t":144.4,"fps":106.7},{"t":145.0,"fps":105.7},{"t":145.6,"fps":100.6},{"t":146.2,"fps":105.7},{"t":146.8,"fps":107.6},{"t":147.4,"fps":106.7},{"t":148.2,"fps":108.5},{"t":148.9,"fps":112.3},{"t":149.5,"fps":115.0},{"t":150.1,"fps":114.1},{"t":150.6,"fps":109.5},{"t":151.0,"fps":113.2},{"t":151.6,"fps":111.3},{"t":152.4,"fps":108.5},{"t":153.0,"fps":111.3},{"t":153.6,"fps":113.2},{"t":154.3,"fps":114.1},{"t":155.2,"fps":115.0},{"t":156.0,"fps":110.4},{"t":156.4,"fps":112.3},{"t":157.0,"fps":112.3},{"t":157.6,"fps":113.2},{"t":158.2,"fps":114.1},{"t":159.1,"fps":115.5},{"t":159.6,"fps":116.0},{"t":160.2,"fps":114.1},{"t":160.6,"fps":113.2},{"t":160.9,"fps":109.5},{"t":161.5,"fps":114.1},{"t":162.1,"fps":115.0},{"t":162.7,"fps":111.3},{"t":163.4,"fps":116.0},{"t":164.2,"fps":115.0},{"t":165.0,"fps":115.0},{"t":165.7,"fps":112.3},{"t":166.4,"fps":108.5},{"t":167.0,"fps":109.5},{"t":167.6,"fps":108.5},{"t":168.2,"fps":106.7},{"t":168.8,"fps":105.7},{"t":169.6,"fps":104.8},{"t":170.2,"fps":103.9},{"t":170.8,"fps":106.7},{"t":171.4,"fps":104.8},{"t":172.0,"fps":107.6},{"t":172.9,"fps":110.4},{"t":174.0,"fps":114.1},{"t":174.6,"fps":112.3},{"t":175.3,"fps":109.5},{"t":176.0,"fps":110.4},{"t":176.5,"fps":107.6},{"t":177.1,"fps":103.9},{"t":177.7,"fps":106.7},{"t":178.4,"fps":107.6},{"t":179.0,"fps":109.5},{"t":179.5,"fps":109.5},{"t":180.1,"fps":113.2},{"t":180.8,"fps":115.0},{"t":181.6,"fps":109.5},{"t":182.0,"fps":108.5},{"t":182.5,"fps":111.3},{"t":183.1,"fps":108.5},{"t":183.7,"fps":106.7},{"t":184.3,"fps":104.8},{"t":185.1,"fps":103.0}
    ]
  },
  "encoding": {
    "x": {
      "field": "t",
      "type": "quantitative",
      "scale": {"domain": [0, 190], "nice": false, "zero": false},
      "axis": {
        "title": "経過時間(sec)",
        "values": [0, 20, 40, 60, 80, 100, 120, 140, 160, 180],
        "grid": false,
        "ticks": false,
        "domain": true,
        "domainColor": "#d9d9d9",
        "domainWidth": 1,
        "labelPadding": 15,
        "titlePadding": 20,
        "labelFlush": false
      }
    },
    "y": {
      "field": "fps",
      "type": "quantitative",
      "scale": {"domain": [0, 220], "nice": false},
      "axis": {
        "title": "Frame Rate(fps)",
        "values": [0, 20, 40, 60, 80, 100, 120, 140, 160, 180, 200, 220],
        "grid": true,
        "gridColor": "#d9d9d9",
        "gridWidth": 1,
        "domain": false,
        "ticks": false,
        "labelPadding": 17,
        "titlePadding": 17
      }
    }
  },
  "layer": [
    {
      "data": {"name": "super"},
      "mark": {"type": "line", "strokeWidth": 2.6, "strokeJoin": "round"},
      "encoding": {
        "color": {
          "datum": "2080 Super",
          "type": "nominal",
          "scale": {"domain": ["2080 Super", "2080 Ti", "3080", "5700XT"], "range": ["#FFC000", "#ED7D31", "#70AD47", "#5B9BD5"]},
          "legend": {
            "orient": "none",
            "legendX": 235,
            "legendY": 925,
            "direction": "horizontal",
            "title": null,
            "symbolType": "stroke",
            "symbolSize": 1681,
            "symbolStrokeWidth": 3,
            "labelFont": "DejaVu Sans",
            "labelFontSize": 16,
            "labelColor": "#595959",
            "labelOffset": 4,
            "columnPadding": 14
          }
        }
      }
    },
    {
      "data": {"name": "ti"},
      "mark": {"type": "line", "strokeWidth": 2.6, "strokeJoin": "round"},
      "encoding": {"color": {"datum": "2080 Ti", "type": "nominal"}}
    },
    {
      "data": {"name": "g3080"},
      "mark": {"type": "line", "strokeWidth": 2.6, "strokeJoin": "round"},
      "encoding": {"color": {"datum": "3080", "type": "nominal"}}
    },
    {
      "data": {"name": "xt"},
      "mark": {"type": "line", "strokeWidth": 2.6, "strokeJoin": "round"},
      "encoding": {"color": {"datum": "5700XT", "type": "nominal"}}
    }
  ]
}
